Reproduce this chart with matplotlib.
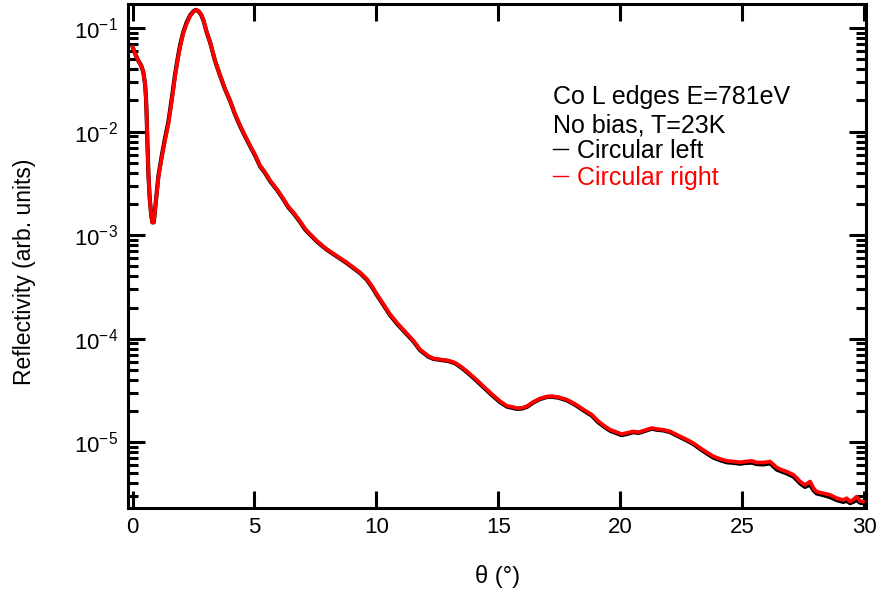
import matplotlib
matplotlib.use("Agg")
import matplotlib.pyplot as plt
from matplotlib.lines import Line2D
from matplotlib.ticker import LogLocator, NullFormatter, FixedLocator

plt.rcParams['font.family'] = ['Liberation Sans', 'DejaVu Sans']
plt.rcParams['mathtext.fontset'] = 'custom'
plt.rcParams['mathtext.rm'] = 'Liberation Sans'
plt.rcParams['mathtext.it'] = 'Liberation Sans:italic'

theta = [0.00, 0.10, 0.21, 0.35, 0.44, 0.51, 0.55, 0.58, 0.61, 0.65, 0.70, 0.76,
         0.81, 0.87, 0.92, 0.99, 1.06, 1.20, 1.33, 1.47, 1.61, 1.74, 1.85, 1.95,
         2.08, 2.22, 2.36, 2.50, 2.59, 2.70, 2.81, 2.91, 3.04, 3.18, 3.38, 3.59,
         3.79, 4.00, 4.20, 4.41, 4.61, 4.82, 5.02, 5.23, 5.43, 5.64, 5.91, 6.19,
         6.39, 6.60, 6.87, 7.08, 7.35, 7.55, 7.96, 8.38, 8.78, 9.06, 9.33, 9.61,
         9.81, 10.02, 10.29, 10.56, 10.84, 11.25, 11.52, 11.79, 12.13, 12.34,
         12.61, 12.95, 13.23, 13.50, 13.71, 14.05, 14.39, 14.73, 15.07, 15.35,
         15.76, 15.96, 16.17, 16.44, 16.71, 16.99, 17.19, 17.47, 17.81, 18.15,
         18.49, 18.83, 19.11, 19.38, 19.59, 19.86, 20.06, 20.27, 20.54, 20.75,
         20.95, 21.16, 21.30, 21.50, 21.77, 22.05, 22.32, 22.73, 23.00, 23.28,
         23.55, 23.82, 24.10, 24.37, 24.64, 24.92, 25.12, 25.40, 25.60, 25.87,
         26.15, 26.42, 26.63, 26.83, 27.11, 27.38, 27.58, 27.79, 27.93, 28.06,
         28.34, 28.61, 28.88, 29.15, 29.29, 29.43, 29.57, 29.70, 29.84, 29.98]

circ_right = [0.0659, 0.0569, 0.0497, 0.0437, 0.0377, 0.0291, 0.0216, 0.0138,
              0.00764, 0.00391, 0.00232, 0.0016, 0.00133, 0.00133, 0.00172,
              0.0025, 0.00362, 0.00566, 0.00822, 0.0119, 0.020, 0.0337, 0.049,
              0.0659, 0.0888, 0.111, 0.1306, 0.1439, 0.1494, 0.147, 0.1367,
              0.1197, 0.092, 0.0736, 0.049, 0.0351, 0.026, 0.020, 0.0149, 0.0115,
              0.00919, 0.00734, 0.0060, 0.0047, 0.00406, 0.00337, 0.0028, 0.00224,
              0.00188, 0.00166, 0.00136, 0.00115, 0.000986, 0.000883, 0.000733,
              0.00063, 0.000545, 0.000486, 0.000436, 0.000376, 0.000324,
              0.000269, 0.000215, 0.000172, 0.000143, 0.000112, 9.55e-5, 7.87e-5,
              6.8e-5, 6.44e-5, 6.3e-5, 6.15e-5, 5.85e-5, 5.31e-5, 4.85e-5,
              4.12e-5, 3.47e-5, 2.92e-5, 2.49e-5, 2.25e-5, 2.14e-5, 2.14e-5,
              2.22e-5, 2.45e-5, 2.64e-5, 2.76e-5, 2.78e-5, 2.72e-5, 2.58e-5,
              2.34e-5, 2.07e-5, 1.85e-5, 1.59e-5, 1.42e-5, 1.32e-5, 1.25e-5,
              1.20e-5, 1.23e-5, 1.27e-5, 1.25e-5, 1.29e-5, 1.34e-5, 1.37e-5,
              1.34e-5, 1.32e-5, 1.27e-5, 1.18e-5, 1.06e-5, 9.8e-6, 8.8e-6,
              8.0e-6, 7.3e-6, 6.9e-6, 6.6e-6, 6.52e-6, 6.4e-6, 6.5e-6, 6.6e-6,
              6.37e-6, 6.37e-6, 6.5e-6, 5.7e-6, 5.4e-6, 5.2e-6, 4.84e-6, 4.17e-6,
              3.87e-6, 4.17e-6, 3.59e-6, 3.33e-6, 3.21e-6, 3.1e-6, 2.88e-6,
              2.77e-6, 2.88e-6, 2.67e-6, 2.8e-6, 2.98e-6, 2.7e-6, 2.67e-6]

circ_left = [0.0659, 0.0569, 0.0497, 0.0437, 0.0377, 0.0291, 0.0216, 0.0138,
             0.00764, 0.00391, 0.00232, 0.0016, 0.00133, 0.00133, 0.00175,
             0.0026, 0.00375, 0.0059, 0.0086, 0.0125, 0.021, 0.0352, 0.051,
             0.0685, 0.0915, 0.114, 0.1330, 0.1455, 0.1500, 0.146, 0.1350,
             0.1180, 0.091, 0.0728, 0.0485, 0.0347, 0.0257, 0.0198, 0.0147,
             0.0113, 0.00905, 0.00724, 0.0059, 0.00462, 0.00400, 0.00332,
             0.00276, 0.00221, 0.00185, 0.00163, 0.00134, 0.00113, 0.000972,
             0.000872, 0.000725, 0.000623, 0.000538, 0.000480, 0.000430,
             0.000370, 0.000318, 0.000264, 0.000211, 0.000169, 0.000140,
             0.000110, 9.4e-5, 7.75e-5, 6.7e-5, 6.38e-5, 6.24e-5, 6.08e-5,
             5.78e-5, 5.22e-5, 4.76e-5, 4.04e-5, 3.40e-5, 2.86e-5, 2.44e-5,
             2.21e-5, 2.10e-5, 2.11e-5, 2.19e-5, 2.42e-5, 2.61e-5, 2.73e-5,
             2.75e-5, 2.69e-5, 2.54e-5, 2.30e-5, 2.03e-5, 1.81e-5, 1.55e-5,
             1.39e-5, 1.29e-5, 1.22e-5, 1.17e-5, 1.20e-5, 1.25e-5, 1.23e-5,
             1.27e-5, 1.32e-5, 1.35e-5, 1.32e-5, 1.30e-5, 1.25e-5, 1.16e-5,
             1.04e-5, 9.6e-6, 8.6e-6, 7.8e-6, 7.1e-6, 6.7e-6, 6.4e-6, 6.32e-6,
             6.2e-6, 6.3e-6, 6.35e-6, 6.15e-6, 6.1e-6, 6.25e-6, 5.45e-6, 5.2e-6,
             5.0e-6, 4.65e-6, 4.0e-6, 3.7e-6, 3.9e-6, 3.42e-6, 3.2e-6, 3.08e-6,
             2.95e-6, 2.76e-6, 2.65e-6, 2.72e-6, 2.58e-6, 2.66e-6, 2.78e-6,
             2.6e-6, 2.58e-6]

xticks = [0, 5, 10, 15, 20, 25, 30]
info_lines = ["Co L edges E=781eV", "No bias, T=23K"]
series_labels = ["Circular left", "Circular right"]

fig = plt.figure(figsize=(8.8, 5.95), dpi=100)
ax = fig.add_axes([0.1451, 0.1457, 0.8395, 0.8476])

ax.plot(theta, circ_left, color='black', lw=3.0, solid_joinstyle='round',
        solid_capstyle='round')
ax.plot(theta, circ_right, color='red', lw=2.7, solid_joinstyle='round',
        solid_capstyle='round')

ax.set_yscale('log')
ax.set_xlim(-0.2, 30.1)
ax.set_ylim(2.3e-6, 0.171)

ax.xaxis.set_major_locator(FixedLocator(xticks))
ax.yaxis.set_major_locator(LogLocator(base=10, numticks=20))
ax.yaxis.set_minor_locator(LogLocator(base=10, subs=range(2, 10), numticks=50))
ax.yaxis.set_minor_formatter(NullFormatter())

for s in ax.spines.values():
    s.set_linewidth(2.2)

ax.tick_params(axis='both', which='major', direction='in', length=12, width=2.2,
               top=True, right=True, labelsize=16)
ax.tick_params(axis='x', which='major', pad=6)
ax.tick_params(axis='y', which='major', pad=7)
ax.tick_params(axis='y', which='minor', direction='in', length=7, width=2.2,
               right=True, left=True)

ax.set_xlabel("θ (°)", fontsize=17)
ax.set_ylabel("Reflectivity (arb. units)", fontsize=16.5)
ax.xaxis.set_label_coords(0.5, -0.112)
ax.yaxis.set_label_coords(-0.124, 0.468)

ax.text(0.5757, 0.8156, info_lines[0], transform=ax.transAxes, fontsize=18,
        va='center', ha='left')
ax.text(0.5757, 0.760, info_lines[1], transform=ax.transAxes, fontsize=18,
        va='center', ha='left')

handles = [Line2D([], [], color='black', lw=1), Line2D([], [], color='red', lw=1)]
leg = ax.legend(handles, series_labels, loc='upper left',
                bbox_to_anchor=(0.5757, 0.733), frameon=False, fontsize=18,
                handlelength=0.6, handletextpad=0.35, borderpad=0,
                borderaxespad=0, labelspacing=0.12, labelcolor=['black', 'red'])

fig.savefig("out.png", dpi=100)
